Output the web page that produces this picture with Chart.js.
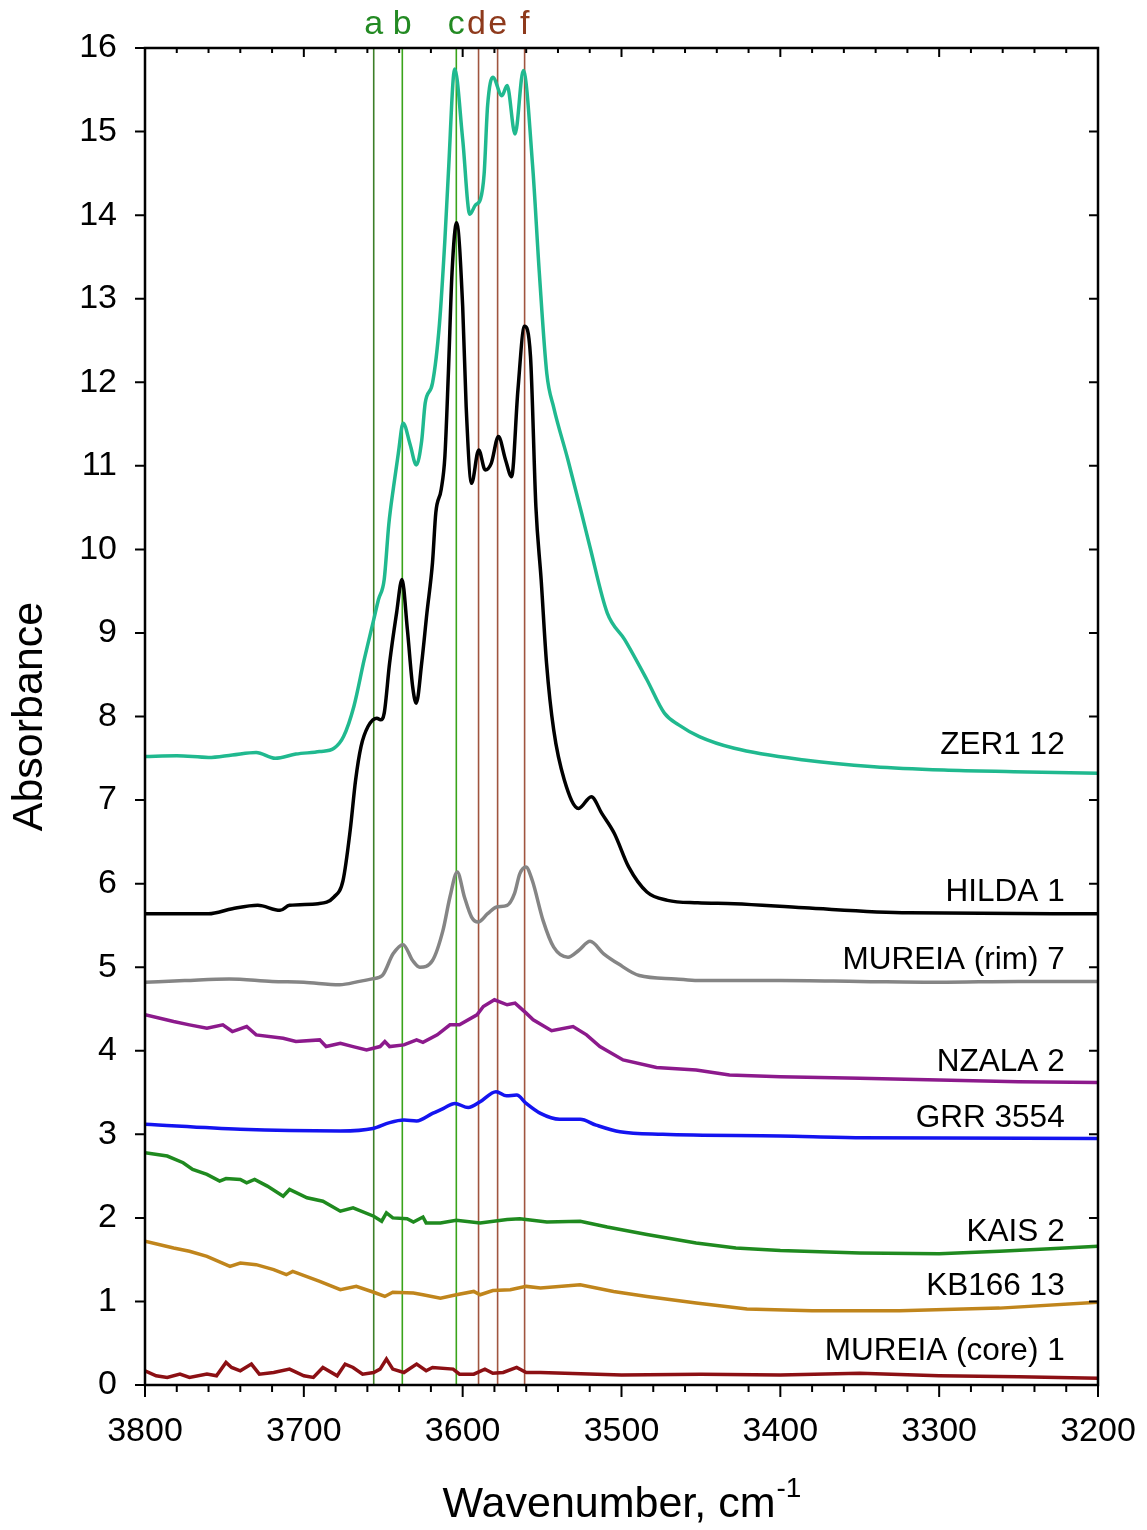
<!DOCTYPE html>
<html>
<head>
<meta charset="utf-8">
<script src="https://cdn.jsdelivr.net/npm/chart.js@4.4.1/dist/chart.umd.min.js"></script>
<style>
  html, body { margin: 0; padding: 0; background: #fff; overflow: hidden; }
  canvas { display: block; }
</style>
</head>
<body>
<canvas id="spectra" width="1147" height="1530"></canvas>
<script>
// OH stretching region, spectra offset vertically
const zer1Wn  = [3800, 3780, 3760, 3745, 3730, 3718, 3705, 3690, 3681, 3675, 3668.5, 3662, 3656, 3653, 3649.4, 3646.5, 3643.5, 3640.5, 3637.5, 3633, 3629.2, 3625.8, 3623.6, 3619, 3614.6, 3611.2, 3609, 3605, 3600, 3595.5, 3592, 3588.8, 3586.5, 3584.3, 3581, 3575.3, 3572, 3567, 3561.8, 3556, 3551.7, 3547, 3542.7, 3533.7, 3524.7, 3520, 3509, 3498, 3484, 3473, 3464, 3451, 3429, 3385, 3341, 3297, 3253, 3200];
const zer1Abs = [7.52, 7.53, 7.51, 7.54, 7.57, 7.50, 7.55, 7.58, 7.62, 7.76, 8.12, 8.68, 9.16, 9.40, 9.64, 10.30, 10.75, 11.15, 11.51, 11.25, 11.01, 11.30, 11.75, 11.99, 12.70, 13.70, 14.50, 15.75, 14.91, 14.01, 14.12, 14.19, 14.49, 15.31, 15.65, 15.43, 15.55, 14.97, 15.73, 14.60, 13.30, 12.10, 11.70, 11.07, 10.40, 10.04, 9.24, 8.92, 8.44, 8.04, 7.90, 7.76, 7.62, 7.48, 7.40, 7.36, 7.34, 7.32];

const hildaWn  = [3800, 3760, 3745, 3729, 3715, 3709, 3691, 3681, 3675.3, 3670.8, 3667.4, 3664, 3659.6, 3654, 3651.7, 3649.4, 3646, 3641.6, 3638.2, 3634.8, 3631.5, 3629.2, 3625.8, 3622.5, 3619, 3616.9, 3613.5, 3611.2, 3609, 3606.7, 3603.8, 3600, 3597.8, 3594.4, 3589.9, 3585.8, 3582, 3577.5, 3573, 3569.2, 3565.2, 3561.1, 3557.3, 3553.9, 3550.6, 3547.2, 3542.7, 3536, 3527, 3519, 3512.4, 3504.5, 3495.5, 3484, 3471, 3452, 3429, 3385, 3319, 3200];
const hildaAbs = [5.64, 5.64, 5.70, 5.74, 5.68, 5.74, 5.76, 5.84, 6.04, 6.64, 7.24, 7.64, 7.88, 7.98, 7.96, 8.04, 8.64, 9.24, 9.64, 9.04, 8.36, 8.16, 8.64, 9.24, 9.84, 10.44, 10.72, 11.11, 12.11, 13.31, 13.91, 12.91, 11.71, 10.79, 11.19, 10.95, 11.03, 11.35, 11.07, 10.87, 11.91, 12.67, 12.31, 10.51, 9.64, 8.64, 7.84, 7.24, 6.90, 7.04, 6.84, 6.60, 6.20, 5.90, 5.80, 5.77, 5.76, 5.71, 5.65, 5.64];

const rimWn  = [3800, 3775, 3747, 3720, 3700, 3677.5, 3665, 3657, 3650.6, 3643.8, 3637.5, 3631.5, 3627, 3619, 3612.4, 3608, 3603.4, 3598.9, 3594.4, 3590.3, 3584.3, 3578.6, 3572, 3567.4, 3564, 3560.2, 3556.2, 3549.4, 3542.7, 3533.7, 3527, 3519.8, 3511.2, 3502, 3488.8, 3466, 3452, 3400, 3350, 3300, 3250, 3200];
const rimAbs = [4.82, 4.84, 4.86, 4.83, 4.82, 4.79, 4.83, 4.86, 4.90, 5.16, 5.27, 5.08, 5.00, 5.08, 5.44, 5.84, 6.14, 5.84, 5.60, 5.54, 5.64, 5.72, 5.74, 5.88, 6.12, 6.20, 6.04, 5.56, 5.24, 5.12, 5.20, 5.31, 5.16, 5.04, 4.90, 4.86, 4.84, 4.84, 4.83, 4.82, 4.83, 4.83];

const nzalaWn  = [3800, 3782, 3772, 3761, 3751, 3745, 3736, 3730, 3713, 3705, 3690, 3686, 3677, 3669, 3660.5, 3652, 3649, 3646, 3637, 3629, 3625, 3616, 3608, 3602, 3591, 3587, 3580, 3572, 3567, 3560, 3555.6, 3544, 3530.5, 3522, 3513.6, 3499, 3478, 3453, 3432, 3400, 3350, 3300, 3250, 3200];
const nzalaAbs = [4.43, 4.35, 4.31, 4.27, 4.31, 4.23, 4.29, 4.19, 4.15, 4.11, 4.13, 4.05, 4.09, 4.05, 4.01, 4.05, 4.11, 4.05, 4.07, 4.13, 4.10, 4.19, 4.31, 4.31, 4.43, 4.53, 4.61, 4.55, 4.57, 4.45, 4.37, 4.24, 4.29, 4.19, 4.05, 3.89, 3.80, 3.77, 3.71, 3.69, 3.67, 3.65, 3.63, 3.62];

const grrWn  = [3800, 3740, 3677, 3656.5, 3646, 3637, 3629, 3619, 3612, 3605, 3596.5, 3589, 3579, 3572.4, 3566, 3560, 3551, 3539, 3526, 3516, 3501, 3474, 3400, 3350, 3200];
const grrAbs = [3.12, 3.06, 3.04, 3.07, 3.14, 3.17, 3.16, 3.25, 3.31, 3.37, 3.32, 3.39, 3.51, 3.46, 3.47, 3.37, 3.25, 3.18, 3.18, 3.11, 3.03, 3.00, 2.98, 2.96, 2.95];

const kaisWn  = [3800, 3786, 3776, 3770, 3761, 3753, 3749, 3740, 3736, 3731, 3723, 3713, 3709, 3698, 3688, 3677, 3669, 3656, 3651, 3648, 3644, 3635, 3631, 3625, 3623, 3614, 3604, 3589, 3572, 3564, 3547, 3526, 3509, 3484, 3453, 3428, 3400, 3350, 3300, 3262, 3230, 3200];
const kaisAbs = [2.78, 2.74, 2.66, 2.58, 2.52, 2.44, 2.47, 2.46, 2.42, 2.46, 2.38, 2.26, 2.34, 2.24, 2.20, 2.08, 2.12, 2.02, 1.96, 2.06, 2.00, 1.99, 1.95, 2.01, 1.94, 1.94, 1.97, 1.94, 1.98, 1.99, 1.95, 1.96, 1.89, 1.80, 1.70, 1.64, 1.61, 1.58, 1.57, 1.60, 1.63, 1.66];

const kb166Wn  = [3800, 3782, 3772, 3761, 3746.5, 3740, 3730, 3719, 3711, 3707, 3690, 3677, 3667, 3656, 3649, 3644, 3631, 3625, 3614, 3604, 3593, 3589, 3581, 3570, 3560, 3551, 3526, 3505, 3484, 3453, 3421, 3380, 3325, 3262, 3200];
const kb166Abs = [1.72, 1.64, 1.60, 1.54, 1.42, 1.46, 1.44, 1.38, 1.32, 1.36, 1.24, 1.14, 1.18, 1.11, 1.06, 1.11, 1.10, 1.08, 1.04, 1.08, 1.12, 1.08, 1.13, 1.14, 1.18, 1.16, 1.20, 1.12, 1.06, 0.98, 0.91, 0.89, 0.89, 0.92, 0.99];

const coreWn  = [3800, 3793, 3786, 3778, 3772, 3761, 3755, 3749, 3745.5, 3740, 3733, 3728, 3719, 3709, 3700, 3694, 3688, 3679, 3674, 3669, 3663, 3656, 3652, 3648, 3644, 3637, 3629, 3623, 3619, 3606, 3602, 3593, 3586, 3581, 3574.5, 3566, 3560, 3551, 3500, 3450, 3400, 3350, 3300, 3250, 3200];
const coreAbs = [0.17, 0.11, 0.09, 0.13, 0.09, 0.13, 0.11, 0.27, 0.21, 0.17, 0.25, 0.13, 0.15, 0.19, 0.11, 0.09, 0.21, 0.11, 0.25, 0.21, 0.13, 0.15, 0.19, 0.31, 0.19, 0.15, 0.25, 0.17, 0.21, 0.19, 0.13, 0.13, 0.19, 0.14, 0.15, 0.21, 0.15, 0.15, 0.12, 0.13, 0.12, 0.14, 0.11, 0.10, 0.08];

// band positions marked by vertical lines
const bandLetters = ['a', 'b', 'c', 'd', 'e', 'f'];
const bandWn      = [3656, 3638, 3604, 3590, 3578, 3561];

const FONT = '"Liberation Sans", Arial, Helvetica, sans-serif';

// lift = how far (px) the sample name sits above the trace's right end
const series = [
  { name: 'ZER1 12',         wn: zer1Wn,  abs: zer1Abs,  color: '#20b98f', smooth: true,  lift: 28 },
  { name: 'HILDA 1',         wn: hildaWn, abs: hildaAbs, color: '#000000', smooth: true,  lift: 21 },
  { name: 'MUREIA (rim) 7',  wn: rimWn,   abs: rimAbs,   color: '#858585', smooth: true,  lift: 21 },
  { name: 'NZALA 2',         wn: nzalaWn, abs: nzalaAbs, color: '#8c1a8c', smooth: false, lift: 20 },
  { name: 'GRR 3554',        wn: grrWn,   abs: grrAbs,   color: '#1414f0', smooth: true,  lift: 20 },
  { name: 'KAIS 2',          wn: kaisWn,  abs: kaisAbs,  color: '#1f8a1f', smooth: false, lift: 14 },
  { name: 'KB166 13',        wn: kb166Wn, abs: kb166Abs, color: '#c0851c', smooth: false, lift: 16 },
  { name: 'MUREIA (core) 1', wn: coreWn,  abs: coreAbs,  color: '#8c1014', smooth: false, lift: 27 }
];

const datasets = series.map(s => ({
  label: s.name,
  data: s.wn.map((w, i) => ({ x: w, y: s.abs[i] })),
  borderColor: s.color,
  borderWidth: 3.5,
  pointRadius: 0,
  fill: false,
  cubicInterpolationMode: s.smooth ? 'monotone' : 'default',
  tension: 0
}));

// vertical band lines and their letters above the frame
const bandLines = {
  id: 'bandLines',
  beforeDatasetsDraw(chart) {
    const { ctx, chartArea: a, scales: { x } } = chart;
    ctx.save();
    ctx.lineWidth = 1.6;
    bandWn.forEach((w, i) => {
      const px = x.getPixelForValue(w);
      ctx.strokeStyle = i < 3 ? (i === 0 ? '#3d7f28' : '#3aa41a') : '#a0553f';
      ctx.beginPath();
      ctx.moveTo(px, a.top);
      ctx.lineTo(px, a.bottom);
      ctx.stroke();
    });
    ctx.font = '34px ' + FONT;
    ctx.textAlign = 'center';
    ctx.textBaseline = 'alphabetic';
    bandWn.forEach((w, i) => {
      const px = x.getPixelForValue(w);
      ctx.fillStyle = i < 3 ? '#238a23' : '#8e3a1c';
      ctx.fillText(bandLetters[i], px - (i === 3 ? 2 : 0), a.top - 14);
    });
    ctx.restore();
  }
};

// box frame, inward/outward ticks, sample names and axis titles
const frame = {
  id: 'frame',
  afterDatasetsDraw(chart) {
    const { ctx, chartArea: a, scales: { x, y } } = chart;
    ctx.save();
    ctx.strokeStyle = '#000';
    ctx.lineWidth = 2.5;
    ctx.strokeRect(a.left, a.top, a.right - a.left, a.bottom - a.top);

    ctx.lineWidth = 2;
    ctx.beginPath();
    for (let v = 0; v <= 16; v++) {
      const py = y.getPixelForValue(v);
      ctx.moveTo(a.left - 10, py); ctx.lineTo(a.left, py);
      ctx.moveTo(a.right, py); ctx.lineTo(a.right - 9, py);
    }
    for (let w = 3200; w <= 3800; w += 20) {
      const px = x.getPixelForValue(w);
      const major = w % 100 === 0;
      ctx.moveTo(px, a.bottom); ctx.lineTo(px, a.bottom + (major ? 12 : 7));
      ctx.moveTo(px, a.top); ctx.lineTo(px, a.top + (major ? 9 : 5));
    }
    ctx.stroke();

    // sample names sit just above the right end of each trace
    ctx.font = '31.5px ' + FONT;
    ctx.fillStyle = '#000';
    ctx.textAlign = 'right';
    ctx.textBaseline = 'middle';
    const labelX = x.getPixelForValue(3221);
    series.forEach(s => {
      const last = s.abs[s.abs.length - 1];
      ctx.fillText(s.name, labelX, y.getPixelForValue(last) - s.lift);
    });

    // axis titles
    ctx.font = '43px ' + FONT;
    ctx.textAlign = 'center';
    ctx.textBaseline = 'middle';
    ctx.save();
    ctx.translate(30, (a.top + a.bottom) / 2);
    ctx.rotate(-Math.PI / 2);
    ctx.fillText('Absorbance', 0, 0);
    ctx.restore();

    const main = 'Wavenumber, cm';
    const sup = '-1';
    ctx.font = '43px ' + FONT;
    const wMain = ctx.measureText(main).width;
    ctx.font = '28px ' + FONT;
    const wSup = ctx.measureText(sup).width;
    const startX = (a.left + a.right) / 2 - (wMain + wSup) / 2;
    ctx.textAlign = 'left';
    ctx.textBaseline = 'alphabetic';
    ctx.font = '43px ' + FONT;
    ctx.fillText(main, startX, 1517);
    ctx.font = '28px ' + FONT;
    ctx.fillText(sup, startX + wMain + 1, 1497);
    ctx.restore();
  }
};

new Chart(document.getElementById('spectra'), {
  type: 'line',
  data: { datasets: datasets },
  options: {
    responsive: false,
    animation: false,
    layout: { padding: { top: 48, right: 49, left: 0, bottom: 0 } },
    plugins: { legend: { display: false }, tooltip: { enabled: false } },
    scales: {
      x: {
        type: 'linear',
        reverse: true,
        min: 3200,
        max: 3800,
        grid: { display: false, drawTicks: false },
        border: { display: false },
        ticks: {
          stepSize: 100,
          padding: 26,
          color: '#000',
          font: { family: FONT, size: 34 },
          maxRotation: 0,
          callback: v => String(v)
        },
        afterFit(scale) {
          scale.height = 145;
          scale.paddingLeft = 0;
          scale.paddingRight = 0;
        }
      },
      y: {
        min: 0,
        max: 16,
        grid: { display: false, drawTicks: false },
        border: { display: false },
        ticks: {
          stepSize: 1,
          padding: 28,
          color: '#000',
          font: { family: FONT, size: 34 },
          callback: v => String(v)
        },
        afterFit(scale) {
          scale.width = 145;
          scale.paddingTop = 0;
          scale.paddingBottom = 0;
        }
      }
    }
  },
  plugins: [bandLines, frame]
});
</script>
</body>
</html>
